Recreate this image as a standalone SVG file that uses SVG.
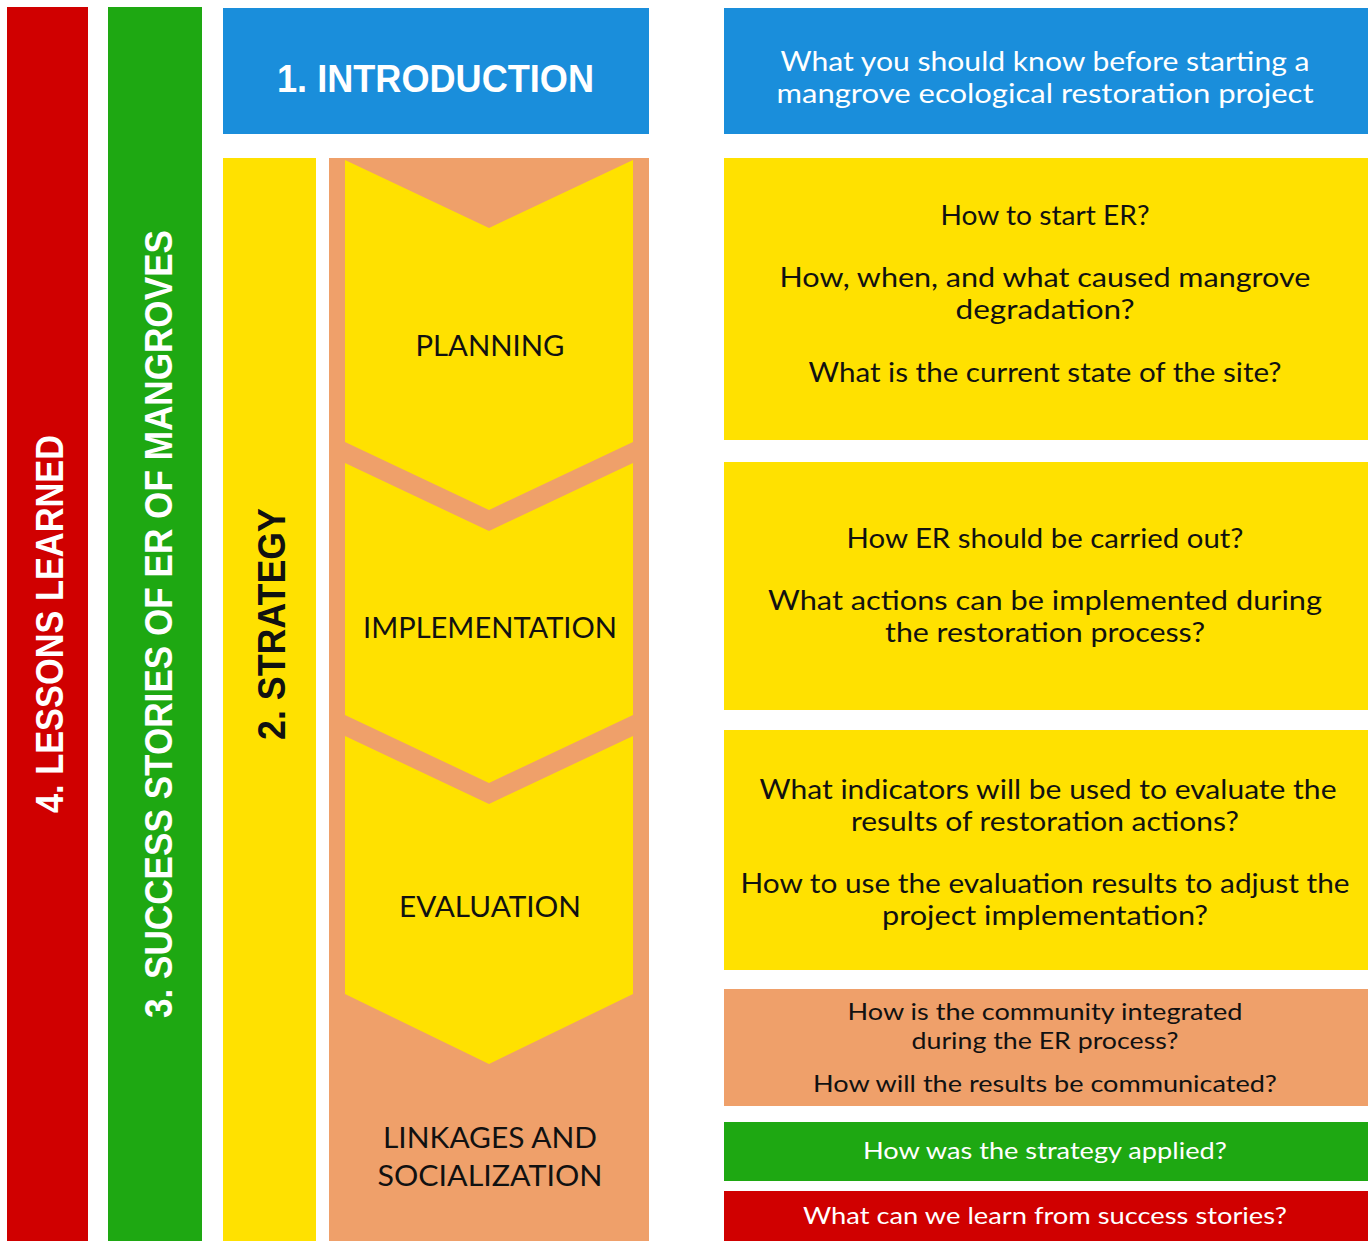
<svg xmlns="http://www.w3.org/2000/svg" width="1371" height="1241" viewBox="0 0 1371 1241">
<style>
.t{font-family:Lato,"Liberation Sans",sans-serif;font-size:26px;fill:#111;text-anchor:middle}
.w{fill:#fff}
.s{font-size:23px}
.lab{font-family:Lato,"Liberation Sans",sans-serif;font-size:29px;fill:#111;text-anchor:middle}
.ttl{font-family:"Liberation Sans","Arial",sans-serif;font-weight:bold;font-size:38px}
</style>
<rect width="1371" height="1241" fill="#fff"/>
<g id="lessons">
<rect x="7" y="7" width="81" height="1234" fill="#D00000"/>
<text class="ttl" fill="#fff" transform="translate(63,813) rotate(-90)" textLength="378" lengthAdjust="spacingAndGlyphs">4. LESSONS LEARNED</text>
</g>
<g id="success">
<rect x="108" y="7" width="94" height="1234" fill="#1EA812"/>
<text class="ttl" fill="#fff" transform="translate(172,1018) rotate(-90)" textLength="788" lengthAdjust="spacingAndGlyphs">3. SUCCESS STORIES OF ER OF MANGROVES</text>
</g>
<g id="introduction">
<rect x="223" y="8" width="426" height="126" fill="#1A8EDB"/>
<text class="ttl" fill="#fff" x="277" y="92" font-size="42" textLength="317" lengthAdjust="spacingAndGlyphs">1. INTRODUCTION</text>
</g>
<g id="strategy">
<rect x="223" y="158" width="93" height="1083" fill="#FFE100"/>
<text class="ttl" fill="#111" transform="translate(285,740) rotate(-90)" textLength="232" lengthAdjust="spacingAndGlyphs">2. STRATEGY</text>
</g>
<g id="strategy-column">
<rect x="329" y="158" width="320" height="1083" fill="#EFA06A"/>
</g>
<g id="planning">
<polygon points="345,160 489,228 633,160 633,442 489,510 345,442" fill="#FFE100"/>
<text class="lab" x="490" y="356" textLength="149" lengthAdjust="spacingAndGlyphs">PLANNING</text>
</g>
<g id="implementation">
<polygon points="345,463 489,531 633,463 633,715 489,783 345,715" fill="#FFE100"/>
<text class="lab" x="490" y="638" textLength="254" lengthAdjust="spacingAndGlyphs">IMPLEMENTATION</text>
</g>
<g id="evaluation">
<polygon points="345,736 489,804 633,736 633,994 489,1064 345,994" fill="#FFE100"/>
<text class="lab" x="490" y="917" textLength="182" lengthAdjust="spacingAndGlyphs">EVALUATION</text>
</g>
<g id="linkages">
<text class="lab" x="490" y="1148" textLength="214" lengthAdjust="spacingAndGlyphs">LINKAGES AND</text>
<text class="lab" x="490" y="1186" textLength="225" lengthAdjust="spacingAndGlyphs">SOCIALIZATION</text>
</g>
<g id="intro-q">
<rect x="724" y="8" width="644" height="126" fill="#1A8EDB"/>
<text class="t w" x="1045" y="71" textLength="529" lengthAdjust="spacingAndGlyphs">What you should know before starting a</text>
<text class="t w" x="1045" y="103" textLength="537" lengthAdjust="spacingAndGlyphs">mangrove ecological restoration project</text>
</g>
<g id="planning-q">
<rect x="724" y="158" width="644" height="282" fill="#FFE100"/>
<text class="t" x="1045" y="225" textLength="209" lengthAdjust="spacingAndGlyphs">How to start ER?</text>
<text class="t" x="1045" y="287" textLength="531" lengthAdjust="spacingAndGlyphs">How, when, and what caused mangrove</text>
<text class="t" x="1045" y="319" textLength="179" lengthAdjust="spacingAndGlyphs">degradation?</text>
<text class="t" x="1045" y="382" textLength="473" lengthAdjust="spacingAndGlyphs">What is the current state of the site?</text>
</g>
<g id="implementation-q">
<rect x="724" y="462" width="644" height="248" fill="#FFE100"/>
<text class="t" x="1045" y="548" textLength="397" lengthAdjust="spacingAndGlyphs">How ER should be carried out?</text>
<text class="t" x="1045" y="610" textLength="554" lengthAdjust="spacingAndGlyphs">What actions can be implemented during</text>
<text class="t" x="1045" y="642" textLength="320" lengthAdjust="spacingAndGlyphs">the restoration process?</text>
</g>
<g id="evaluation-q">
<rect x="724" y="730" width="644" height="240" fill="#FFE100"/>
<text class="t" x="1048" y="799" textLength="577" lengthAdjust="spacingAndGlyphs">What indicators will be used to evaluate the</text>
<text class="t" x="1045" y="831" textLength="388" lengthAdjust="spacingAndGlyphs">results of restoration actions?</text>
<text class="t" x="1045" y="893" textLength="609" lengthAdjust="spacingAndGlyphs">How to use the evaluation results to adjust the</text>
<text class="t" x="1045" y="925" textLength="326" lengthAdjust="spacingAndGlyphs">project implementation?</text>
</g>
<g id="linkages-q">
<rect x="724" y="989" width="644" height="117" fill="#EFA06A"/>
<text class="t s" x="1045" y="1020" textLength="395" lengthAdjust="spacingAndGlyphs">How is the community integrated</text>
<text class="t s" x="1045" y="1049" textLength="267" lengthAdjust="spacingAndGlyphs">during the ER process?</text>
<text class="t s" x="1045" y="1092" textLength="464" lengthAdjust="spacingAndGlyphs">How will the results be communicated?</text>
</g>
<g id="success-q">
<rect x="724" y="1122" width="644" height="59" fill="#1EA812"/>
<text class="t s w" x="1045" y="1159" textLength="364" lengthAdjust="spacingAndGlyphs">How was the strategy applied?</text>
</g>
<g id="lessons-q">
<rect x="724" y="1191" width="644" height="50" fill="#D00000"/>
<text class="t s w" x="1045" y="1224" textLength="484" lengthAdjust="spacingAndGlyphs">What can we learn from success stories?</text>
</g>
<g id="connectors"></g>
</svg>
